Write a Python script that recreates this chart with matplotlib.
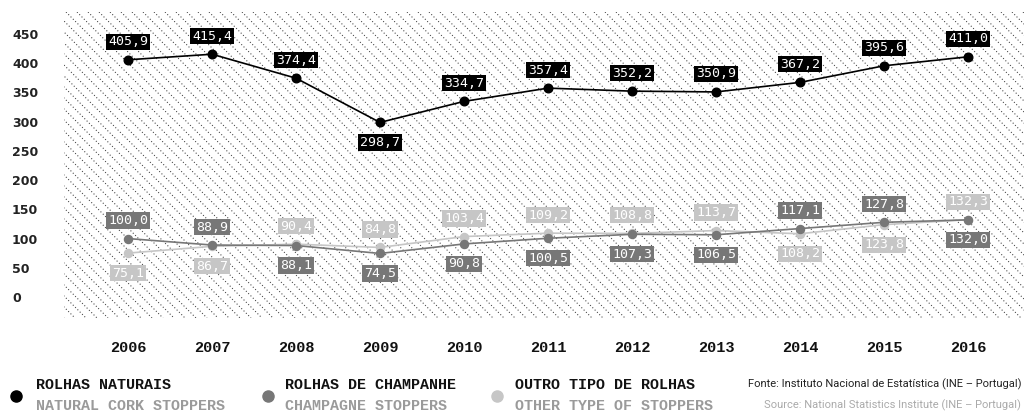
import matplotlib
matplotlib.use("Agg")
import matplotlib.pyplot as plt
from matplotlib.lines import Line2D
import numpy as np

plt.rcParams["lines.scale_dashes"] = False

years = [2006, 2007, 2008, 2009, 2010, 2011, 2012, 2013, 2014, 2015, 2016]
natural = [405.9, 415.4, 374.4, 298.7, 334.7, 357.4, 352.2, 350.9, 367.2, 395.6, 411.0]
champagne = [100.0, 88.9, 88.1, 74.5, 90.8, 100.5, 107.3, 106.5, 117.1, 127.8, 132.0]
other = [75.1, 86.7, 90.4, 84.8, 103.4, 109.2, 108.8, 113.7, 108.2, 123.8, 132.3]
natural_label_side = ['up', 'up', 'up', 'down', 'up', 'up', 'up', 'up', 'up', 'up', 'up']
yticks = [0, 50, 100, 150, 200, 250, 300, 350, 400, 450]

legend_pt = ["ROLHAS NATURAIS", "ROLHAS DE CHAMPANHE", "OUTRO TIPO DE ROLHAS"]
legend_en = ["NATURAL CORK STOPPERS", "CHAMPAGNE STOPPERS", "OTHER TYPE OF STOPPERS"]
source_pt = "Fonte: Instituto Nacional de Estatística (INE – Portugal)"
source_en = "Source: National Statistics Institute (INE – Portugal)"

C_NAT = "#000000"
C_CHA = "#777777"
C_OTH = "#c6c6c6"

W, H = 1024, 413
fig = plt.figure(figsize=(W / 100, H / 100), dpi=100)
fig.patch.set_facecolor("white")

# axes region (pixels)
L, T, R, B = 64, 12, 1024, 318
ax = fig.add_axes([L / W, (H - B) / H, (R - L) / W, (B - T) / H])
ax.set_facecolor("white")
for s in ax.spines.values():
    s.set_visible(False)

# hatch background (decoration)
aw, ah = R - L, B - T
step = 11
c = -ah
while c < aw:
    ax.plot([c / aw, (c + ah) / aw], [1, 0], transform=ax.transAxes,
            color="#3a3a3a", lw=0.75, linestyle=(0, (0.75, 1.6)), zorder=0)
    c += step

# scales: 2006 at x=128, spacing 84 px ; y 0 at 297
px_per_year = 84
x0 = 2006 - (128 - L) / px_per_year
x1 = 2016 + (R - 968) / px_per_year
ppu = (297 - 34) / 450
ax.set_xlim(x0, x1)
ax.set_ylim(-(B - 297) / ppu, (297 - T) / ppu)


def fmt(v):
    return f"{v:.1f}".replace(".", ",")


def draw_series(vals, color, sides, lw, ms, z):
    ax.plot(years, vals, color=color, lw=lw, marker="o", ms=ms, zorder=z,
            solid_capstyle="round")
    for x, v, sd in zip(years, vals, sides):
        off = 18 if sd == "up" else -20
        ax.annotate(fmt(v), (x, v), xytext=(0, off), textcoords="offset pixels",
                    ha="center", va="center", color="white", fontsize=9.5,
                    family="DejaVu Sans Mono",
                    bbox=dict(boxstyle="square,pad=0.12", fc=color, ec="none"),
                    zorder=z + 5)


cha_sides = ["up" if c_ >= o_ else "down" for c_, o_ in zip(champagne, other)]
oth_sides = ["up" if o_ > c_ else "down" for c_, o_ in zip(champagne, other)]

draw_series(other, C_OTH, oth_sides, 1.2, 5.8, 3)
draw_series(champagne, C_CHA, cha_sides, 1.2, 5.8, 4)
draw_series(natural, C_NAT, natural_label_side, 1.2, 6.2, 5)

ax.set_yticks(yticks)
ax.set_yticklabels([str(v) for v in yticks], ha="left", fontsize=9,
                   fontweight="bold", color="#222222", family="DejaVu Sans")
ax.tick_params(axis="y", length=0, pad=(L - 12) * 0.72)
ax.set_xticks(years)
ax.set_xticklabels([str(y) for y in years], fontsize=11, fontweight="bold",
                   family="Liberation Mono", color="#111111")
ax.tick_params(axis="x", length=0, pad=(341 - B) * 0.72)

# legend
leg_marker_x = [16, 268, 497]
leg_text_x = [36, 285, 515]
leg_colors = [C_NAT, C_CHA, C_OTH]
for mx, tx, col, pt, en in zip(leg_marker_x, leg_text_x, leg_colors, legend_pt, legend_en):
    fig.add_artist(Line2D([mx / W], [(H - 396) / H], marker="o", ms=8,
                          color=col, transform=fig.transFigure, lw=0))
    fig.text(tx / W, (H - 385) / H, pt, fontsize=10.8, fontweight="bold",
             family="Liberation Mono", color="#111111", va="center", ha="left")
    fig.text(tx / W, (H - 406) / H, en, fontsize=10.8, fontweight="bold",
             family="Liberation Mono", color="#9a9a9a", va="center", ha="left")

fig.text(1021 / W, (H - 384) / H, source_pt, fontsize=8,
         family=["Roboto", "DejaVu Sans"], color="#222222", va="center", ha="right")
fig.text(1021 / W, (H - 405) / H, source_en, fontsize=8,
         family=["Roboto", "DejaVu Sans"], color="#aaaaaa", va="center", ha="right")

fig.savefig("out.png", dpi=100)
